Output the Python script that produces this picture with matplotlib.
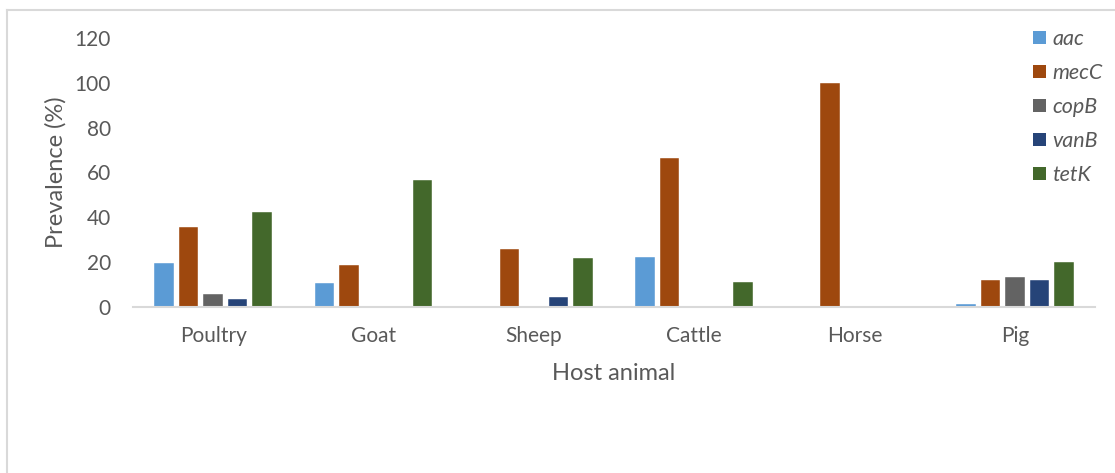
import numpy as np
import matplotlib.pyplot as plt
from matplotlib.patches import Patch
from matplotlib.lines import Line2D

plt.rcParams['font.family'] = ['Lato', 'DejaVu Sans']

hosts = ['Poultry', 'Goat', 'Sheep', 'Cattle', 'Horse', 'Pig']
genes = ['aac', 'mecC', 'copB', 'vanB', 'tetK']
aac = [19.4, 10.6, 0, 22.1, 0, 1.4]
mecC = [35.5, 18.7, 25.9, 66.5, 100, 11.8]
copB = [5.6, 0, 0, 0, 0, 13.4]
vanB = [3.3, 0, 4.3, 0, 0, 11.8]
tetK = [42.4, 56.5, 21.6, 10.9, 0, 20.1]
colours = ['#5B9BD5', '#9E480E', '#636363', '#264478', '#43682B']

grey = '#595959'
light = '#D9D9D9'

fig = plt.figure(figsize=(11.15, 4.73), dpi=100)
ax = fig.add_axes([133/1115, 1-306.7/473, (1095-133)/1115, (306.7-38)/473])

x = np.arange(len(hosts))
slot = 0.153
w = 0.122
series = [aac, mecC, copB, vanB, tetK]
for j, vals in enumerate(series):
    ax.bar(x + (j-2)*slot, vals, w, color=colours[j], edgecolor='white',
           linewidth=0.3, label=genes[j])

ax.set_xlim(-0.5, len(hosts)-0.5)
ax.set_ylim(0, 120)
ax.set_yticks(range(0, 121, 20))
ax.set_xticks(x)
ax.set_xticklabels(hosts)
ax.tick_params(axis='both', length=0, labelsize=15, labelcolor=grey)
ax.tick_params(axis='y', pad=16)
ax.tick_params(axis='x', pad=14)
for s in ['top', 'right', 'left']:
    ax.spines[s].set_visible(False)
ax.spines['bottom'].set_color(light)
ax.spines['bottom'].set_linewidth(1.5)

fig.text(56/1115, 1-172/473, 'Prevalence (%)', rotation=90, ha='center', va='center',
         fontsize=17, color=grey)
fig.text(614/1115, 1-374/473, 'Host animal', ha='center', va='center',
         fontsize=17, color=grey)

handles = [Patch(facecolor=c, edgecolor='none') for c in colours]
leg = fig.legend(handles, genes, loc='upper left', bbox_to_anchor=(1033/1115, 1-29/473),
                 frameon=False, fontsize=15.5, handlelength=0.6, handleheight=0.6,
                 handletextpad=0.3, labelspacing=0.65, borderpad=0, borderaxespad=0)
for t in leg.get_texts():
    t.set_color(grey)
    t.set_style('italic')

# outer frame (top and left edges visible)
fig.add_artist(Line2D([7/1115, 1], [1-10/473, 1-10/473], color=light, lw=1.5))
fig.add_artist(Line2D([7/1115, 7/1115], [0, 1-10/473], color=light, lw=1.5))

fig.savefig('out.png', dpi=100)
